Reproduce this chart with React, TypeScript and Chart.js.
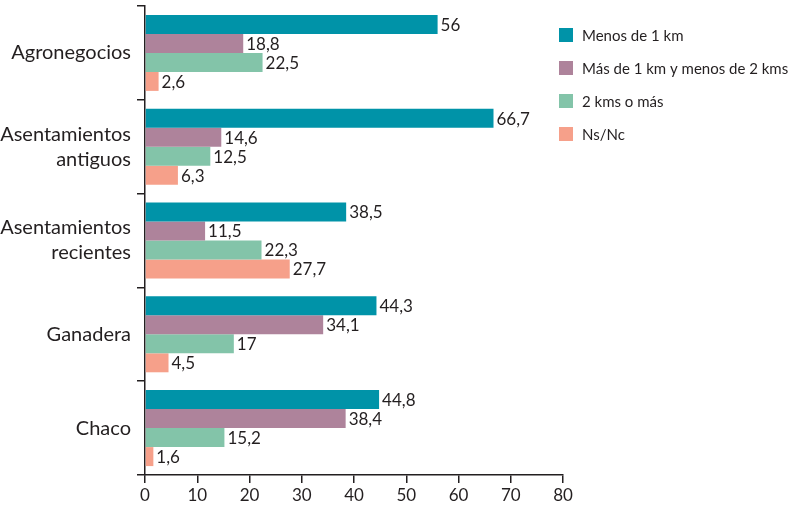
import React, { useEffect, useRef } from "react";
import { Chart, registerables } from "chart.js";

Chart.register(...registerables);

const categories: (string | string[])[] = [
  "Agronegocios",
  ["Asentamientos", "antiguos"],
  ["Asentamientos", "recientes"],
  "Ganadera",
  "Chaco",
];
const seriesNames = ["Menos de 1 km", "Más de 1 km y menos de 2 kms", "2 kms o más", "Ns/Nc"];
const menos1km = [56, 66.7, 38.5, 44.3, 44.8];
const entre1y2 = [18.8, 14.6, 11.5, 34.1, 38.4];
const dosOMas = [22.5, 12.5, 22.3, 17, 15.2];
const nsnc = [2.6, 6.3, 27.7, 4.5, 1.6];
const colors = ["#0093A8", "#AE839B", "#83C4A9", "#F6A08A"];
const xTicks = [0, 10, 20, 30, 40, 50, 60, 70, 80];

const FONT = "Lato, 'Open Sans', sans-serif";
const TEXT = "#231f20";

const labelPlugin = {
  id: "valueLabels",
  afterDatasetsDraw(chart: any) {
    const ctx = chart.ctx;
    ctx.save();
    ctx.font = `17px ${FONT}`;
    ctx.fillStyle = TEXT;
    ctx.textBaseline = "middle";
    ctx.textAlign = "left";
    chart.data.datasets.forEach((ds: any, di: number) => {
      const meta = chart.getDatasetMeta(di);
      meta.data.forEach((bar: any, i: number) => {
        const v = ds.data[i];
        ctx.fillText(String(v).replace(".", ","), bar.x + 3, bar.y + 1);
      });
    });
    ctx.restore();
  },
};

const legendPlugin = {
  id: "customLegend",
  afterDraw(chart: any) {
    const ctx = chart.ctx;
    ctx.save();
    ctx.font = `15px ${FONT}`;
    ctx.textBaseline = "middle";
    ctx.textAlign = "left";
    chart.data.datasets.forEach((ds: any, i: number) => {
      const cy = 35 + i * 33;
      ctx.fillStyle = ds.backgroundColor;
      ctx.fillRect(559, cy - 7, 14, 14);
      ctx.fillStyle = TEXT;
      ctx.fillText(ds.label, 582, cy + 1);
    });
    ctx.restore();
  },
};

export default function App() {
  const ref = useRef<HTMLCanvasElement>(null);
  useEffect(() => {
    if (!ref.current) return;
    const seriesData = [menos1km, entre1y2, dosOMas, nsnc];
    const chart = new Chart(ref.current, {
      type: "bar",
      data: {
        labels: categories,
        datasets: seriesData.map((d, i) => ({
          label: seriesNames[i],
          data: d,
          backgroundColor: colors[i],
          borderWidth: 0,
          categoryPercentage: 0.81,
          barPercentage: 1.0,
        })),
      },
      options: {
        indexAxis: "y",
        animation: false,
        responsive: false,
        maintainAspectRatio: false,
        layout: { padding: { left: 0, top: 6, right: 230, bottom: 0 } },
        plugins: {
          legend: { display: false },
          tooltip: { enabled: false },
          title: { display: false },
        },
        scales: {
          x: {
            min: 0,
            max: 80,
            afterBuildTicks: (scale: any) => {
              scale.ticks = xTicks.map((v) => ({ value: v }));
            },
            afterFit: (scale: any) => {
              scale.height = 34;
              scale.paddingLeft = 0;
              scale.paddingRight = 0;
            },
            border: { display: true, color: "#231f20", width: 1.5 },
            grid: {
              display: true,
              drawOnChartArea: false,
              drawTicks: true,
              tickLength: 8,
              color: "#231f20",
              lineWidth: 1.5,
            },
            ticks: {
              color: TEXT,
              font: { family: FONT, size: 17 },
              padding: 2,
              maxRotation: 0,
            },
          },
          y: {
            afterFit: (scale: any) => {
              scale.width = 145;
              scale.paddingTop = 0;
              scale.paddingBottom = 0;
            },
            border: { display: true, color: "#231f20", width: 1.5 },
            grid: {
              display: true,
              drawOnChartArea: false,
              drawTicks: true,
              tickLength: 8,
              color: "#231f20",
              lineWidth: 1.5,
              offset: true,
            },
            ticks: {
              color: TEXT,
              font: { family: FONT, size: 20, lineHeight: 1.25 },
              padding: 6,
            },
          },
        },
      },
      plugins: [labelPlugin, legendPlugin],
    });
    return () => chart.destroy();
  }, []);
  return (
    <div style={{ position: "fixed", left: 0, top: 0, width: 793, height: 509, background: "#fff" }}>
      <canvas ref={ref} width={793} height={509} style={{ width: 793, height: 509 }} />
    </div>
  );
}
